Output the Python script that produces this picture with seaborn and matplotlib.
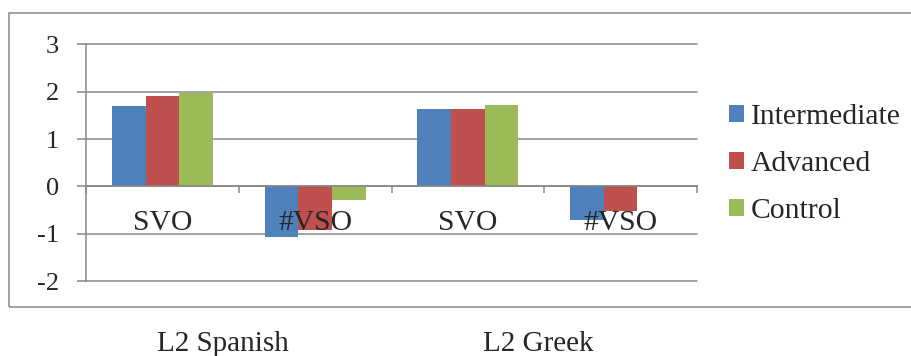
import numpy as np
import pandas as pd
import matplotlib
matplotlib.use("Agg")
import matplotlib.pyplot as plt
import seaborn as sns
from matplotlib.patches import Rectangle

# Mean acceptability scores by word order, learner group and language
languages = ["L2 Spanish", "L2 Greek"]
conditions = ["L2 Spanish SVO", "L2 Spanish #VSO", "L2 Greek SVO", "L2 Greek #VSO"]
word_orders = ["SVO", "#VSO", "SVO", "#VSO"]
groups = ["Intermediate", "Advanced", "Control"]
intermediate = [1.71, -1.07, 1.64, -0.70]
advanced = [1.91, -0.92, 1.64, -0.53]
control = [1.97, -0.29, 1.73, np.nan]
y_ticks = [-2, -1, 0, 1, 2, 3]
colors = ["#4F81BD", "#C0504D", "#9BBB59"]

rows = []
for g, vals in zip(groups, [intermediate, advanced, control]):
    for c, v in zip(conditions, vals):
        rows.append({"condition": c, "group": g, "score": v})
df = pd.DataFrame(rows)

sns.set_style("white")
plt.rcParams["font.family"] = ["Liberation Serif", "DejaVu Serif"]
plt.rcParams["axes.unicode_minus"] = False

grey = "#878787"
W, H = 911, 356
fig = plt.figure(figsize=(W / 100, H / 100), dpi=100)
ax = fig.add_axes([86 / W, 1 - 281 / H, (697 - 86) / W, (281 - 44.5) / H])

sns.barplot(data=df, x="condition", y="score", hue="group", order=conditions,
            hue_order=groups, palette=colors, width=0.66, gap=0, saturation=1,
            errorbar=None, linewidth=0, ax=ax)

ax.set_xlim(-0.5, 3.5)
ax.set_ylim(-2, 3)
ax.set_xlabel("")
ax.set_ylabel("")

# horizontal gridlines behind the bars
ax.set_axisbelow(True)
ax.yaxis.grid(True, color=grey, linewidth=1.1)
ax.xaxis.grid(False)
ax.xaxis.set_zorder(3)

ax.set_yticks(y_ticks)
ax.set_yticklabels([str(t) for t in y_ticks])
ax.tick_params(axis="y", which="major", length=6.5, width=1.1, color=grey,
               direction="out", pad=13, labelsize=19, left=True)
for gl in ax.yaxis.get_gridlines():
    gl.set_clip_on(False)

# category axis sits on the zero line, ticks between categories
for side in ["top", "right"]:
    ax.spines[side].set_visible(False)
ax.spines["bottom"].set_position(("data", 0))
for side in ["left", "bottom"]:
    ax.spines[side].set_color(grey)
    ax.spines[side].set_linewidth(1.1)

ax.set_xticks(np.arange(len(conditions) + 1) - 0.5)
ax.set_xticklabels([])
ax.set_xticks(np.arange(len(conditions)), minor=True)
ax.set_xticklabels(word_orders, minor=True)
ax.tick_params(axis="x", which="major", length=5, width=1.1, color=grey,
               direction="out", bottom=True)
ax.tick_params(axis="x", which="minor", length=0, pad=17, labelsize=21.3)

handles, labels = ax.get_legend_handles_labels()
ax.get_legend().remove()
fig.legend(handles, labels, loc="center left", bbox_to_anchor=(729 / W, 1 - 164 / H),
           frameon=False, fontsize=21.3, handlelength=0.52, handleheight=0.52,
           handletextpad=0.23, labelspacing=0.72, borderpad=0, borderaxespad=0)

# outer chart border
fig.patches.append(Rectangle((9 / W, 1 - 307 / H), (925 - 9) / W, (307 - 13) / H,
                             transform=fig.transFigure, fill=False,
                             edgecolor=grey, linewidth=1.1))

for lang, xpx in zip(languages, [223, 538]):
    fig.text(xpx / W, 1 - 344 / H, lang, ha="center", va="center", fontsize=21)

fig.savefig("out.png", dpi=100)
